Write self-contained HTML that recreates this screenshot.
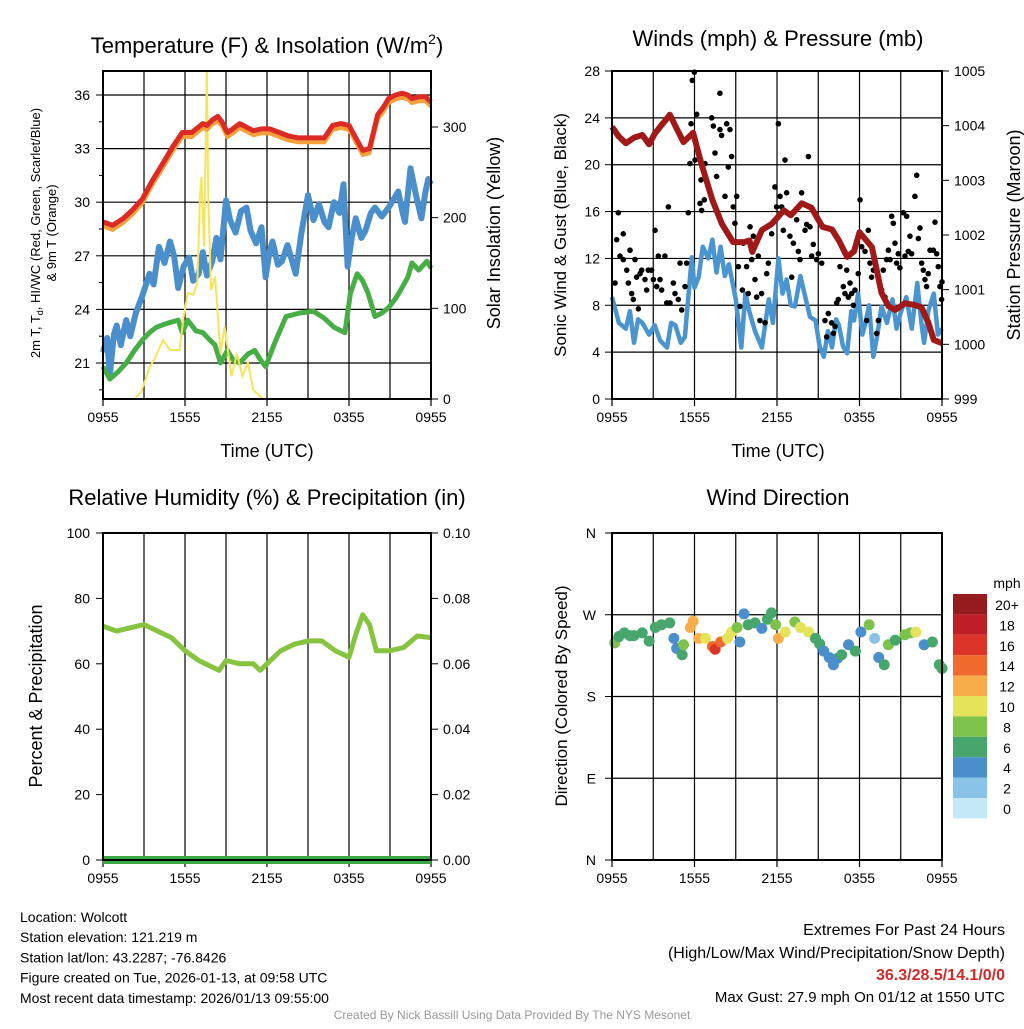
<!DOCTYPE html>
<html><head><meta charset="utf-8"><style>
body{margin:0;background:#fff;width:1024px;height:1024px;overflow:hidden}
svg text{font-family:"Liberation Sans",sans-serif;fill:#000}
</style></head><body>
<svg id="c" width="1024" height="1024" xmlns="http://www.w3.org/2000/svg"></svg>
<script>
// ---------- data (hours since 0955 UTC) ----------
const xTickLabels=["0955","1555","2155","0355","0955"];
const tHours=[0,0.7,1.5,2.2,2.9,3.6,4.4,5.1,5.8,6.5,7.3,7.6,8.0,8.4,8.7,9.1,9.5,10.0,10.5,11.0,11.6,12.2,12.9,13.6,14.3,15.1,15.6,16.2,16.8,17.4,18.0,18.5,19.0,19.5,20.1,20.5,20.9,21.4,21.9,22.3,22.6,23.1,23.6,24];
const tempT=[28.9,28.7,29.1,29.6,30.2,31.2,32.2,33.1,33.9,33.9,34.4,34.3,34.6,34.8,34.5,33.9,34.1,34.4,34.2,34.0,34.1,34.1,33.9,33.7,33.6,33.6,33.6,33.6,34.3,34.4,34.3,33.6,32.9,33.0,34.9,35.3,35.8,36.0,36.1,36.0,35.8,35.9,35.9,35.6];
const dewHours=[0,0.5,1.1,1.7,2.3,2.9,3.4,3.9,4.6,5.5,5.8,6.2,6.8,7.3,7.8,8.2,8.6,9.1,9.5,10.0,10.6,11.1,11.5,11.9,12.6,13.4,14.4,15.4,16.2,16.9,17.7,18.1,18.6,19.0,19.4,19.9,20.4,20.9,21.4,21.8,22.3,22.6,23.1,23.7,24];
const dewT=[20.8,20.1,20.5,21.0,21.7,22.3,22.7,23.0,23.2,23.4,22.7,23.4,22.8,22.7,22.3,22.0,21.0,21.7,21.2,21.0,21.5,21.7,21.2,20.8,22.2,23.6,23.8,23.9,23.5,23.0,22.7,24.9,26.0,25.6,24.9,23.6,23.8,24.1,24.6,25.1,25.8,26.6,26.2,26.7,26.3];
const hiHours=[0,0.3,0.5,0.8,1.0,1.3,1.7,2.0,2.4,2.9,3.4,3.7,4.1,4.5,4.9,5.2,5.5,5.9,6.3,6.6,7.0,7.3,7.6,8.0,8.3,8.6,9.0,9.3,9.7,10.1,10.5,10.8,11.2,11.6,11.9,12.2,12.4,12.8,13.1,13.5,14.1,14.5,15.0,15.4,15.8,16.2,16.5,16.9,17.3,17.6,17.9,18.2,18.5,18.9,19.2,19.6,19.9,20.4,20.9,21.3,21.6,21.9,22.1,22.5,22.9,23.3,23.6,23.8,24];
const hiwcT=[21.6,22.4,20.3,22.6,23.1,22.0,23.4,22.5,23.8,24.8,26.0,25.4,27.5,26.6,27.8,27.0,25.2,26.4,26.9,25.6,26.0,27.2,25.9,26.7,28.0,26.8,30.1,29.0,28.3,29.5,29.7,28.4,27.7,28.6,25.8,27.3,27.8,26.5,26.7,27.6,26.0,28.2,30.4,29.0,29.9,28.9,28.6,30.0,29.4,31.0,26.4,28.0,29.1,28.0,28.4,29.4,29.7,29.2,29.7,30.2,30.6,29.5,28.9,31.9,30.4,29.1,30.6,31.3,31.0];
const solarHours=[0,2.3,2.8,3.4,3.8,4.4,4.9,5.6,5.9,6.2,6.6,6.9,7.1,7.2,7.4,7.6,7.7,7.9,8.2,8.6,8.9,9.4,9.8,10.2,10.6,11.0,11.7,24];
const solar=[0,0,8,35,45,65,54,54,90,117,115,128,223,245,168,363,227,120,135,50,80,25,50,25,40,10,0,0];
// winds
const windHours=[0,0.5,1.0,1.3,1.6,1.9,2.2,2.7,3.1,3.5,4.0,4.3,4.6,5.0,5.3,5.5,5.8,6.0,6.3,6.6,7.0,7.3,7.6,7.9,8.2,8.5,9.0,9.4,9.7,10.0,10.4,10.9,11.4,11.7,12.1,12.4,12.7,13.0,13.3,13.7,14.0,14.4,14.8,15.1,15.4,15.7,16.0,16.3,16.5,16.8,17.1,17.4,17.6,17.9,18.2,18.4,18.7,19.0,19.3,19.6,20.0,20.4,20.7,21.0,21.4,21.8,22.2,22.5,22.7,23.0,23.4,23.7,24];
const windSpd=[8.7,6.5,6.0,7.5,4.8,6.8,6.5,5.5,6.3,5.0,4.4,6.5,6.3,4.8,5.3,8.0,12.1,9.5,10.4,13.0,12.0,13.6,10.8,13.0,10.5,11.5,8.5,4.4,9.0,7.4,5.8,4.4,8.5,6.5,12.0,9.0,10.2,8.0,7.9,10.5,9.0,7.0,6.7,4.5,3.6,5.8,4.4,6.8,6.3,4.5,3.9,7.5,6.7,9.0,5.5,6.3,8.0,3.6,5.5,7.9,6.5,8.5,6.0,7.4,8.7,6.0,9.9,6.5,4.8,7.5,9.0,5.5,6.0];
const gustHours=[0.22,0.34,0.46,0.58,0.82,0.82,1.07,1.19,1.31,1.43,1.55,1.67,1.79,1.92,2.04,2.16,2.40,2.52,2.64,2.88,3.01,3.13,3.25,3.37,3.49,3.61,3.85,3.98,4.10,4.22,4.46,4.58,4.82,4.95,5.07,5.31,5.43,5.55,5.67,5.75,5.84,5.99,6.04,6.16,6.40,6.47,6.52,6.71,6.76,7.25,7.37,7.49,7.61,7.85,7.85,7.97,8.22,8.34,8.46,8.58,8.70,8.82,8.94,9.07,9.19,9.31,9.48,9.55,9.79,9.91,10.04,10.16,10.28,10.40,10.52,10.64,10.76,10.88,11.13,11.25,11.37,11.61,11.85,11.97,12.10,12.22,12.34,12.46,12.58,12.70,12.94,13.07,13.19,13.43,13.55,13.67,13.79,14.04,14.16,14.28,14.40,14.52,14.64,14.88,15.01,15.25,15.49,15.61,15.73,15.97,16.10,16.22,16.34,16.46,16.58,16.82,16.94,17.07,17.19,17.31,17.43,17.55,17.67,17.91,18.04,18.16,18.40,18.52,18.64,18.76,18.88,19.01,19.25,19.37,19.61,19.73,19.85,19.97,20.10,20.22,20.34,20.46,20.58,20.70,20.82,20.94,21.19,21.31,21.43,21.55,21.67,21.79,22.03,22.16,22.28,22.40,22.52,22.64,22.76,22.88,23.00,23.13,23.37,23.49,23.61,23.73,23.85,23.97,24.0];
const gust=[9.9,13.6,15.9,12.2,14.1,11.9,11.0,9.9,12.7,9.0,8.5,11.9,10.4,7.7,10.7,11.0,10.2,9.3,11.0,11.0,10.2,14.4,9.6,12.2,10.2,9.3,12.2,8.2,16.4,8.2,9.9,9.0,8.5,11.6,7.6,9.6,11.6,15.9,20.1,23.5,27.2,27.9,20.4,24.3,16.7,18.7,16.1,17.0,20.1,24.0,23.3,21.0,19.0,26.1,23.0,22.5,17.3,23.5,19.8,23.0,20.7,16.4,15.0,17.3,11.3,7.9,9.3,13.3,11.3,9.0,14.7,11.9,13.9,10.2,8.7,12.2,6.7,9.0,6.5,10.7,11.6,14.1,18.1,16.4,23.5,17.3,16.4,14.4,20.4,17.6,13.9,10.4,13.3,15.3,12.6,11.9,17.6,14.4,14.9,20.7,14.7,12.2,13.2,11.9,12.4,11.6,6.7,5.3,7.3,6.5,5.6,6.2,8.2,8.5,11.3,9.6,9.0,11.0,8.7,9.9,9.0,8.0,9.3,10.7,17.0,13.0,12.6,6.7,14.4,11.6,10.4,11.0,5.6,6.7,9.3,11.0,8.7,11.9,12.7,11.9,15.6,15.0,13.3,11.6,12.4,11.2,15.9,12.2,15.6,12.6,13.9,12.4,17.3,19.1,13.7,14.6,11.6,11.0,10.2,9.6,10.7,12.7,12.7,15.1,12.4,11.3,9.6,8.5,10.0];
const presHours=[0,0.5,1.0,1.6,2.2,2.7,3.1,3.5,3.9,4.2,4.7,5.2,5.9,6.5,7.3,8.0,8.8,9.6,10.0,10.2,10.9,11.6,12.5,13.0,13.8,14.5,15.3,16.0,16.5,17.1,17.6,18.0,18.9,19.6,20.1,20.6,21.3,22.0,22.5,23.0,23.4,24];
const pres=[1003.98,1003.8,1003.68,1003.78,1003.83,1003.66,1003.85,1003.98,1004.1,1004.2,1003.95,1003.7,1003.87,1003.3,1002.64,1002.2,1001.87,1001.87,1001.9,1001.69,1002.09,1002.2,1002.45,1002.36,1002.58,1002.5,1002.15,1002.1,1001.9,1001.6,1001.7,1002.05,1001.78,1000.94,1000.7,1000.63,1000.75,1000.72,1000.68,1000.4,1000.08,1000.02];
// humidity
const rhHours=[0,1,2,3,4,5,6,7,8,8.5,9,10,11,11.5,12,13,14,15,16,17,17.5,18,18.5,19,19.5,20,21,22,23,24];
const rh=[71.5,70,71,72,70,68,64,61,59,58,61,60,60,58,60,64,66,67,67,64,63,62,69,75,72,64,64,65,68.5,68];
const precip=[0,0];
// wind direction (deg) & speed (mph)
const dirHours=[0.2,0.5,0.9,1.3,1.6,2.2,2.7,3.15,3.6,4.2,4.5,4.7,5.1,5.2,5.7,5.9,6.3,6.8,7.3,7.5,7.9,8.4,8.7,9.1,9.3,9.6,9.9,10.4,10.9,11.3,11.6,11.9,12.1,12.6,13.3,13.7,14.3,14.8,15.1,15.4,15.8,16.1,16.4,16.7,17.2,17.7,18.1,18.7,19.1,19.4,19.8,20.1,20.6,21.3,21.7,22.1,22.7,23.3,23.8,24];
const dirDeg=[239,246,250,247,247,250,241,256,259,261,244,233,226,237,256,263,244,244,235,232,240,244,251,256,240,271,259,261,255,265,272,259,244,251,262,256,251,244,238,230,223,215,222,226,237,230,251,259,244,223,215,237,242,248,250,251,237,240,215,211];
const dirSpd=[8,6,6,6,6,6,6,6,6,6,4,4,6,8,12,12,12,10,14,16,14,10,10,8,4,4,6,6,4,6,6,8,12,10,8,10,10,6,6,4,4,4,4,6,4,6,4,8,2,4,6,8,6,8,8,10,4,6,6,6];
const cbLabels=["20+","18","16","14","12","10","8","6","4","2","0"];
const cbColors=["#961b1e","#bf1e26","#dc3428","#ef6a2c","#f8ad4a","#e4e35a","#7cc24b","#47a66b","#4a8fcb","#8bc3e8","#c4e8f8"];

// ---------- helpers ----------
const svg=document.getElementById('c');const NS="http://www.w3.org/2000/svg";
function mk(t,a,p){const e=document.createElementNS(NS,t);for(const k in a)e.setAttribute(k,a[k]);(p||svg).appendChild(e);return e;}
function txt(s,x,y,sz,anch,p,extra){const e=mk('text',Object.assign({x:x,y:y,'font-size':sz,'text-anchor':anch||'middle'},extra||{}),p);e.textContent=s;return e;}
function lin(d0,d1,r0,r1){return v=>r0+(v-d0)/(d1-d0)*(r1-r0);}
function pathOf(xs,ys,fx,fy){return xs.map((h,i)=>(i?'L':'M')+fx(h).toFixed(1)+' '+fy(ys[i]).toFixed(1)).join(' ');}
function colFor(s){let i=Math.min(10,Math.floor(s/2));return cbColors[10-i];}

function frame(x0,y0,x1,y1,name){
  const g=mk('g',{});
  
  
  const fx=lin(0,24,x0,x1);
  for(let h=3;h<24;h+=3){const l=mk('line',{x1:fx(h),x2:fx(h),y1:y0,y2:y1,stroke:'#000','stroke-width':1.2},g);}
  xTickLabels.forEach((s,i)=>{const x=fx(i*6);mk('line',{x1:x,x2:x,y1:y1,y2:y1+7,stroke:'#000','stroke-width':1.2},g);const t=txt(s,x,y1+23,14,'middle',g);});
  return {g,fx};
}
function box(g,x0,y0,x1,y1){mk('rect',{x:x0,y:y0,width:x1-x0,height:y1-y0,fill:'none',stroke:'#000','stroke-width':2},g);}

// ---------- Panel 1: temperature ----------
(function(){
 const x0=103,x1=431,y0=71,y1=399;
 const {g,fx}=frame(x0,y0,x1,y1,'temperature-panel');
 const fy=lin(21,36,363,95), fs=lin(0,300,399,127);
 [21,24,27,30,33,36].forEach(v=>{mk('line',{x1:x0,x2:x1,y1:fy(v),y2:fy(v),stroke:'#000','stroke-width':1.2},g);mk('line',{x1:x0-7,x2:x0,y1:fy(v),y2:fy(v),stroke:'#000'},g);const t=txt(v,x0-13,fy(v)+5,14,'end',g);});
 [19.5,22.5,25.5,28.5,31.5,34.5].forEach(v=>mk('line',{x1:x0-4,x2:x0,y1:fy(v),y2:fy(v),stroke:'#000'},g));
 [0,100,200,300].forEach(v=>{mk('line',{x1:x1,x2:x1+7,y1:fs(v),y2:fs(v),stroke:'#000'},g);const t=txt(v,x1+12,fs(v)+5,14,'start',g);});
 let p;
 p=mk('path',{d:pathOf(hiHours,hiwcT,fx,fy),fill:'none',stroke:'#4a8fcb','stroke-width':6,'stroke-linejoin':'round'},g);
 p=mk('path',{d:pathOf(dewHours,dewT,fx,fy),fill:'none',stroke:'#47ae46','stroke-width':5,'stroke-linejoin':'round'},g);
 p=mk('path',{d:pathOf(solarHours,solar,fx,fs),fill:'none',stroke:'#f8e45a','stroke-width':2},g);
 p=mk('path',{d:pathOf(tHours,tempT.map(v=>v-0.25),fx,fy),fill:'none',stroke:'#f5a03a','stroke-width':4},g);
 p=mk('path',{d:pathOf(tHours,tempT,fx,fy),fill:'none',stroke:'#dc2a24','stroke-width':5,'stroke-linejoin':'round'},g);
 box(g,x0,y0,x1,y1);
 let t=txt('',267,53,22,'middle',g);t.innerHTML='Temperature (F) &amp; Insolation (W/m<tspan dy="-9" font-size="14">2</tspan><tspan dy="9">)</tspan>';
 t=txt('Time (UTC)',267,457,18,'middle',g);
 t=txt('',0,0,13,'middle',g,{transform:'translate(40,233) rotate(-90)'});t.innerHTML='2m T, T<tspan dy="3" font-size="9">d</tspan><tspan dy="-3">, HI/WC (Red, Green, Scarlet/Blue)</tspan>';
 t=txt('',0,0,13,'middle',g,{transform:'translate(56,233) rotate(-90)'});t.textContent='& 9m T (Orange)';
 t=txt('Solar Insolation (Yellow)',0,0,18,'middle',g,{transform:'translate(500,233) rotate(-90)'});
})();

// ---------- Panel 2: winds ----------
(function(){
 const x0=612,x1=942,y0=71,y1=399;
 const {g,fx}=frame(x0,y0,x1,y1,'winds-panel');
 const fy=lin(0,28,399,71), fp=lin(999,1005,399,71);
 [0,4,8,12,16,20,24,28].forEach(v=>{if(v>0&&v<28)mk('line',{x1:x0,x2:x1,y1:fy(v),y2:fy(v),stroke:'#000','stroke-width':1.2},g);mk('line',{x1:x0-7,x2:x0,y1:fy(v),y2:fy(v),stroke:'#000'},g);const t=txt(v,x0-12,fy(v)+5,14,'end',g);});
 [999,1000,1001,1002,1003,1004,1005].forEach(v=>{mk('line',{x1:x1,x2:x1+7,y1:fp(v),y2:fp(v),stroke:'#000'},g);const t=txt(v,x1+12,fp(v)+5,14,'start',g);});
 let p=mk('path',{d:pathOf(windHours,windSpd,fx,fy),fill:'none',stroke:'#4a94d0','stroke-width':4.5,'stroke-linejoin':'round'},g);
 gustHours.forEach((h,i)=>{const c=mk('circle',{cx:fx(h),cy:fy(gust[i]),r:2.8,fill:'#000'},g);});
 p=mk('path',{d:pathOf(presHours,pres,fx,fp),fill:'none',stroke:'#a01818','stroke-width':6,'stroke-linejoin':'round'},g);
 box(g,x0,y0,x1,y1);
 let t=txt('Winds (mph) & Pressure (mb)',778,46,22,'middle',g);
 t=txt('Time (UTC)',778,457,18,'middle',g);
 t=txt('Sonic Wind & Gust (Blue, Black)',0,0,17,'middle',g,{transform:'translate(566,235) rotate(-90)'});
 t=txt('Station Pressure (Maroon)',0,0,18,'middle',g,{transform:'translate(1020,235) rotate(-90)'});
})();

// ---------- Panel 3: humidity ----------
(function(){
 const x0=103,x1=431,y0=533,y1=860;
 const {g,fx}=frame(x0,y0,x1,y1,'humidity-panel');
 const fy=lin(0,100,860,533), fr=lin(0,0.1,860,533);
 [0,20,40,60,80,100].forEach(v=>{mk('line',{x1:x0-7,x2:x0,y1:fy(v),y2:fy(v),stroke:'#000'},g);const t=txt(v,x0-13,fy(v)+5,14,'end',g);});
 ["0.00","0.02","0.04","0.06","0.08","0.10"].forEach((s,i)=>{const y=fr(i*0.02);mk('line',{x1:x1,x2:x1+7,y1:y,y2:y,stroke:'#000'},g);const t=txt(s,x1+12,y+5,14,'start',g);});
 let p=mk('path',{d:pathOf(rhHours,rh,fx,fy),fill:'none',stroke:'#86c440','stroke-width':5,'stroke-linejoin':'round'},g);
 p=mk('path',{d:pathOf([0,24],precip,fx,fr),fill:'none',stroke:'#3ca845','stroke-width':8},g);
 box(g,x0,y0,x1,y1);
 let t=txt('Relative Humidity (%) & Precipitation (in)',267,505,22,'middle',g);
 t=txt('Percent & Precipitation',0,0,18,'middle',g,{transform:'translate(42,696) rotate(-90)'});
})();

// ---------- Panel 4: wind direction ----------
(function(){
 const x0=612,x1=942,y0=533,y1=860;
 const {g,fx}=frame(x0,y0,x1,y1,'wind-direction-panel');
 const fy=lin(0,360,860,533);
 ["N","E","S","W","N"].forEach((s,i)=>{const y=fy(i*90);if(i>0&&i<4)mk('line',{x1:x0,x2:x1,y1:y,y2:y,stroke:'#000','stroke-width':1.2},g);mk('line',{x1:x0-7,x2:x0,y1:y,y2:y,stroke:'#000'},g);const t=txt(s,x0-16,y+5,14,'end',g);});
 dirHours.forEach((h,i)=>{const c=mk('circle',{cx:fx(h),cy:fy(dirDeg[i]),r:5.5,fill:colFor(dirSpd[i])},g);});
 box(g,x0,y0,x1,y1);
 let t=txt('Wind Direction',778,505,22,'middle',g);
 t=txt('Direction (Colored By Speed)',0,0,17,'middle',g,{transform:'translate(567,696) rotate(-90)'});
 const cb=mk('g',{});
 txt('mph',1007,588,14,'middle',cb);
 cbColors.forEach((c,i)=>{mk('rect',{x:953,y:594+i*20.4,width:34,height:20.4,fill:c},cb);const t=txt(cbLabels[i],1007,610+i*20.4,14,'middle',cb);});
})();

// ---------- footer ----------
const foot=mk('g',{});
["Location: Wolcott","Station elevation: 121.219 m","Station lat/lon: 43.2287; -76.8426","Figure created on Tue, 2026-01-13, at 09:58 UTC","Most recent data timestamp: 2026/01/13 09:55:00"].forEach((s,i)=>txt(s,20,922+i*20.2,14,'start',foot));
const ext=mk('g',{});
txt('Extremes For Past 24 Hours',1005,935,16,'end',ext);
txt('(High/Low/Max Wind/Precipitation/Snow Depth)',1005,958,16,'end',ext);
txt('36.3/28.5/14.1/0/0',1005,980,16,'end',ext,{'font-weight':'bold',style:'fill:#d02a2a'});
txt('Max Gust: 27.9 mph On 01/12 at 1550 UTC',1005,1002,15,'end',ext);
const cr=txt('Created By Nick Bassill Using Data Provided By The NYS Mesonet',512,1019,12,'middle',null,{style:'fill:#999'});
</script>
</body></html>
